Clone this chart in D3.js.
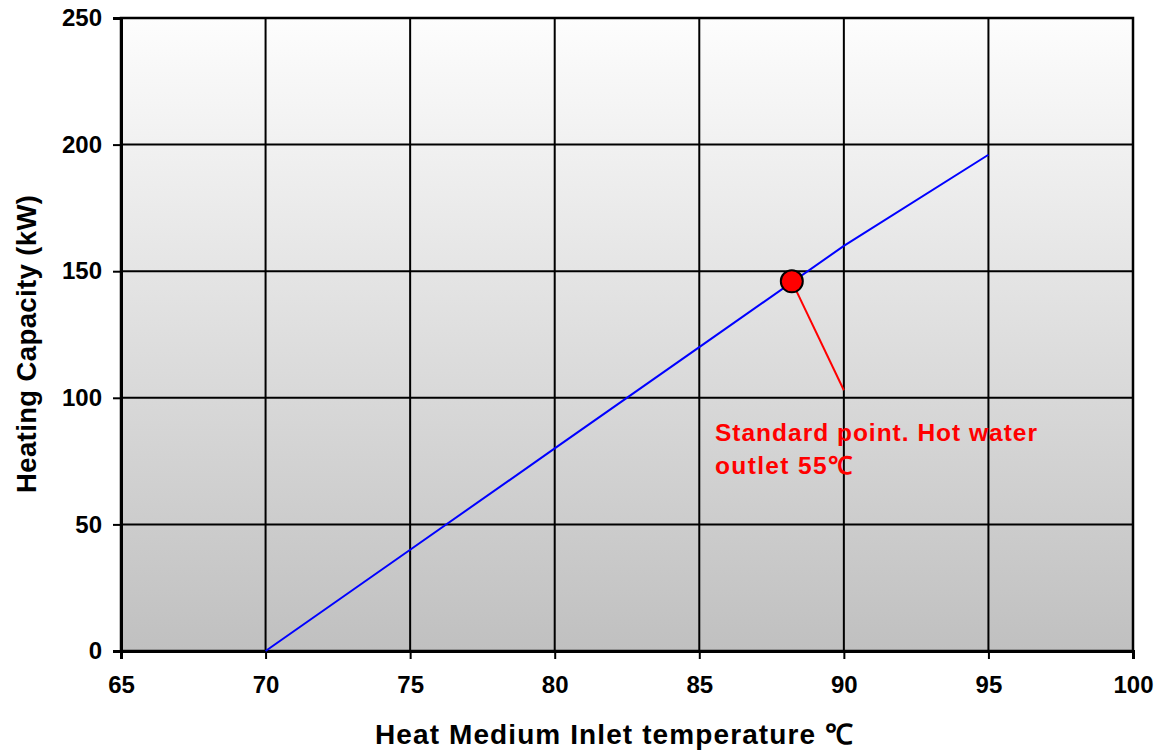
<!DOCTYPE html>
<html><head><meta charset="utf-8">
<script src="https://cdn.jsdelivr.net/npm/d3@7"></script>
<style>
html,body{margin:0;padding:0;background:#fff;}
svg{display:block;font-family:"Liberation Sans",Arial,sans-serif;}
</style></head>
<body>
<svg id="chart" width="1164" height="753"></svg>
<script>
const xTicks = [65, 70, 75, 80, 85, 90, 95, 100];
const yTicks = [0, 50, 100, 150, 200, 250];
const lineX = [70, 75, 80, 85, 90, 95];
const lineY = [0, 40, 80, 120, 160, 196];
const pointX = [88.2];
const pointY = [146];
const annoEnd = [90, 103];
const annoLines = ["Standard point. Hot water", "outlet 55\u2103"];
const xTitle = "Heat Medium Inlet temperature  \u2103";
const yTitle = "Heating Capacity (kW)";

const svg = d3.select("#chart");
const L = 121, R = 1133, T = 18, B = 651;
const x = d3.scaleLinear().domain([65, 100]).range([L, R]);
const y = d3.scaleLinear().domain([0, 250]).range([B, T]);

const defs = svg.append("defs");
const g = defs.append("linearGradient").attr("id","bg").attr("x1",0).attr("y1",0).attr("x2",0).attr("y2",1);
g.append("stop").attr("offset","0%").attr("stop-color","#fdfdfd");
g.append("stop").attr("offset","100%").attr("stop-color","#c0c0c0");

svg.append("rect").attr("x",L).attr("y",T).attr("width",R-L).attr("height",B-T).attr("fill","url(#bg)");

// grid
svg.append("g").selectAll("line").data(xTicks).join("line")
  .attr("x1",d=>x(d)).attr("x2",d=>x(d)).attr("y1",T).attr("y2",B)
  .attr("stroke","#000").attr("stroke-width",2);
svg.append("g").selectAll("line").data(yTicks).join("line")
  .attr("x1",L).attr("x2",R).attr("y1",d=>y(d)).attr("y2",d=>y(d))
  .attr("stroke","#000").attr("stroke-width",2);

// axes
const xAxis = svg.append("g").attr("transform",`translate(0,${B})`)
  .call(d3.axisBottom(x).tickValues(xTicks).tickSize(8).tickPadding(17));
const yAxis = svg.append("g").attr("transform",`translate(${L},0)`)
  .call(d3.axisLeft(y).tickValues(yTicks).tickSize(8).tickPadding(11));
[xAxis,yAxis].forEach(a=>{
  a.select(".domain").attr("stroke","#000").attr("stroke-width",3);
  a.selectAll(".tick line").attr("stroke","#000").attr("stroke-width",2);
  a.selectAll(".tick text").attr("fill","#000").attr("font-size",24).attr("font-weight","bold")
   .attr("font-family","'Liberation Sans',Arial,sans-serif");
});
svg.append("rect").attr("x",L).attr("y",T).attr("width",R-L).attr("height",B-T)
  .attr("fill","none").attr("stroke","#000").attr("stroke-width",2.5);

// data line
const pts = lineX.map((d,i)=>[d,lineY[i]]);
svg.append("path").datum(pts)
  .attr("d", d3.line().x(d=>x(d[0])).y(d=>y(d[1])))
  .attr("fill","none").attr("stroke","#0000ff").attr("stroke-width",2);

// annotation leader
svg.append("line")
  .attr("x1",x(pointX[0])).attr("y1",y(pointY[0]))
  .attr("x2",x(annoEnd[0])).attr("y2",y(annoEnd[1]))
  .attr("stroke","#ff0000").attr("stroke-width",2);

svg.append("g").selectAll("circle").data(pointX).join("circle")
  .attr("cx",d=>x(d)).attr("cy",(d,i)=>y(pointY[i])).attr("r",11)
  .attr("fill","#ff0000").attr("stroke","#000").attr("stroke-width",2);

const annoLen = [322, 137];
svg.append("g").selectAll("text").data(annoLines).join("text")
  .attr("x",715).attr("y",(d,i)=>441+i*33)
  .attr("fill","#ff0000").attr("font-size",24.5).attr("font-weight","bold")
  .attr("textLength",(d,i)=>annoLen[i]).attr("lengthAdjust","spacing")
  .text(d=>d);

svg.append("text").attr("x",375).attr("y",744)
  .attr("textLength",478).attr("lengthAdjust","spacing")
  .attr("font-size",28).attr("font-weight","bold").attr("fill","#000").text(xTitle);
svg.append("text").attr("transform","translate(36,493) rotate(-90)")
  .attr("textLength",298).attr("lengthAdjust","spacing")
  .attr("font-size",27.5).attr("font-weight","bold").attr("fill","#000").text(yTitle);
</script>
</body></html>
